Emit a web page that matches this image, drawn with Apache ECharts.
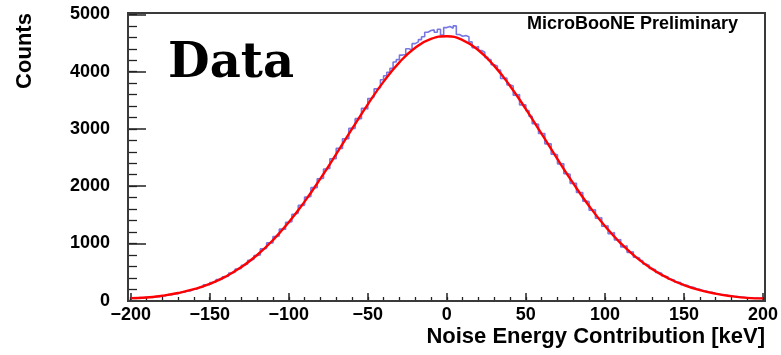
<!DOCTYPE html>
<html>
<head>
<meta charset="utf-8">
<script src="https://cdn.jsdelivr.net/npm/echarts@6/dist/echarts.min.js"></script>
<style>
  html, body { margin: 0; padding: 0; background: #fff; }
  #chart { width: 781px; height: 355px; }
</style>
</head>
<body>
<div id="chart"></div>
<script>
// Histogram: 200 bins of 2 keV from -200 to 200 keV
const binLow = -200;
const binWidth = 2;
const counts = [
  52, 44, 57, 49, 60,      62, 58, 75, 70, 88,
  85, 108, 104, 127, 122,  150, 147, 175, 172, 201,
  204, 238, 241, 278, 280, 318, 326, 369, 376, 419,
  430, 484, 498, 551, 562, 620, 643, 708, 726, 790,
  800, 905, 915, 1010, 1010, 1120, 1130, 1250, 1250, 1370,
  1380, 1510, 1530, 1665, 1670, 1810, 1820, 1975, 1975, 2130,
  2140, 2300, 2310, 2480, 2480, 2660, 2660, 2830, 2830, 3010,
  3010, 3180, 3180, 3360, 3350, 3530, 3560, 3700, 3720, 3860,
  3930, 3990, 4060, 4170, 4210, 4290, 4300, 4400, 4380, 4490,
  4520, 4560, 4610, 4690, 4720, 4730, 4690, 4740, 4640, 4770,
  4790, 4760, 4800, 4650, 4620, 4630, 4610, 4520, 4420, 4440,
  4370, 4340, 4250, 4210, 4120, 4100, 4030, 3880, 3890, 3770,
  3750, 3590, 3600, 3420, 3420, 3320, 3220, 3090, 3080, 2920,
  2920, 2740, 2740, 2560, 2550, 2390, 2390, 2220, 2210, 2050,
  2050, 1890, 1890, 1740, 1730, 1580, 1590, 1440, 1450, 1300,
  1310, 1170, 1190, 1060, 1070, 940, 960, 845, 855, 760,
  745, 700, 640, 620, 565, 540, 495, 480, 432, 415,
  375, 362, 326, 318, 280, 270, 241, 236, 208, 199,
  176, 170, 150, 145, 126, 122, 106, 104, 90, 87,
  74, 73, 62, 61, 51, 52, 44, 47, 40, 43
];

// Gaussian fit curve, sampled every 10 keV
const fitX = [-200, -190, -180, -170, -160, -150, -140, -130, -120, -110, -100,
  -90, -80, -70, -60, -50, -40, -30, -20, -10, 0,
  10, 20, 30, 40, 50, 60, 70, 80, 90, 100,
  110, 120, 130, 140, 150, 160, 170, 180, 190, 200];
const fitY = [45, 55, 87, 134, 201, 294, 421, 587, 798, 1059, 1370,
  1730, 2131, 2560, 3000, 3430, 3826, 4163, 4418, 4574, 4619,
  4551, 4374, 4101, 3751, 3346, 2912, 2473, 2048, 1654, 1304,
  1003, 752, 550, 393, 274, 186, 123, 80, 50, 40];

// Axis tick positions
const xMajorTicks = [-200, -150, -100, -50, 0, 50, 100, 150, 200];
const xMinorTicks = [-200, -190, -180, -170, -160, -150, -140, -130, -120, -110, -100,
  -90, -80, -70, -60, -50, -40, -30, -20, -10, 0, 10, 20, 30, 40, 50, 60, 70, 80, 90, 100,
  110, 120, 130, 140, 150, 160, 170, 180, 190, 200];
const yMajorTicks = [0, 1000, 2000, 3000, 4000, 5000];
const yMinorTicks = [0, 200, 400, 600, 800, 1000, 1200, 1400, 1600, 1800, 2000, 2200, 2400,
  2600, 2800, 3000, 3200, 3400, 3600, 3800, 4000, 4200, 4400, 4600, 4800, 5000];

const histData = counts.map((c, i) => [binLow + i * binWidth, c]);
histData.push([binLow + counts.length * binWidth, counts[counts.length - 1]]);
const fitData = fitX.map((x, i) => [x, fitY[i]]);

const FONT = '"Liberation Sans", Arial, Helvetica, sans-serif';
const GRID = { left: 128, right: 16, top: 13, bottom: 54 };
const X_MIN = -201.7, X_MAX = 201.1, Y_MIN = -5, Y_MAX = 5025;

const chart = echarts.init(document.getElementById('chart'), null, { renderer: 'canvas' });

const axisBase = (extra) => Object.assign({
  type: 'value',
  axisLine: { show: false, onZero: false },
  splitLine: { show: false },
  minorTick: { show: false }
}, extra);

chart.setOption({
  animation: false,
  backgroundColor: '#ffffff',
  grid: GRID,
  xAxis: [
    axisBase({
      min: X_MIN, max: X_MAX, position: 'bottom',
      axisTick: { show: true, inside: true, length: 8, customValues: xMajorTicks,
        lineStyle: { color: '#222', width: 1.5 } },
      axisLabel: { show: true, customValues: xMajorTicks, margin: 5,
        fontFamily: FONT, fontWeight: 'bold', fontSize: 18, color: '#000',
        formatter: (v) => String(v).replace('-', '\u2212') }
    }),
    axisBase({
      min: X_MIN, max: X_MAX, position: 'bottom',
      axisTick: { show: true, inside: true, length: 4, customValues: xMinorTicks,
        lineStyle: { color: '#222', width: 1.3 } },
      axisLabel: { show: false }
    })
  ],
  yAxis: [
    axisBase({
      min: Y_MIN, max: Y_MAX, position: 'left',
      axisTick: { show: true, inside: true, length: 18, customValues: yMajorTicks,
        lineStyle: { color: '#222', width: 1.5 } },
      axisLabel: { show: true, customValues: yMajorTicks, margin: 18,
        fontFamily: FONT, fontWeight: 'bold', fontSize: 18, color: '#000',
        formatter: (v) => String(v) }
    }),
    axisBase({
      min: Y_MIN, max: Y_MAX, position: 'left',
      axisTick: { show: true, inside: true, length: 9, customValues: yMinorTicks,
        lineStyle: { color: '#222', width: 1.3 } },
      axisLabel: { show: false }
    })
  ],
  series: [
    {
      name: 'Data', type: 'line', xAxisIndex: 0, yAxisIndex: 0,
      data: histData, step: 'end', symbol: 'none',
      lineStyle: { color: '#5656dc', width: 1.6, opacity: 0.8 },
      z: 2
    },
    {
      name: 'Fit', type: 'line', xAxisIndex: 0, yAxisIndex: 0,
      data: fitData, smooth: 0.5, symbol: 'none',
      lineStyle: { color: '#ff0000', width: 2.4 },
      z: 3
    }
  ],
  graphic: [
    {
      type: 'rect', silent: true, z: 10,
      shape: { x: 128, y: 13, width: 637, height: 288 },
      style: { fill: 'none', stroke: '#3a3a3a', lineWidth: 2 }
    },
    {
      type: 'text', z: 11, x: 738, y: 24,
      style: { text: 'MicroBooNE Preliminary', font: 'bold 18px ' + FONT,
        fill: '#000', align: 'right', verticalAlign: 'middle' }
    },
    {
      type: 'text', z: 11, x: 168, y: 65,
      style: { text: 'Data', font: 'bold 48px "DejaVu Serif", serif',
        fill: '#000', align: 'left', verticalAlign: 'middle' }
    },
    {
      type: 'text', z: 11, x: 765, y: 336.5,
      style: { text: 'Noise Energy Contribution [keV]', font: 'bold 22px ' + FONT,
        fill: '#000', align: 'right', verticalAlign: 'middle' }
    },
    {
      type: 'text', z: 11, x: 25, y: 51, rotation: Math.PI / 2,
      style: { text: 'Counts', font: 'bold 22px ' + FONT,
        fill: '#000', align: 'center', verticalAlign: 'middle' }
    }
  ]
});
</script>
</body>
</html>
